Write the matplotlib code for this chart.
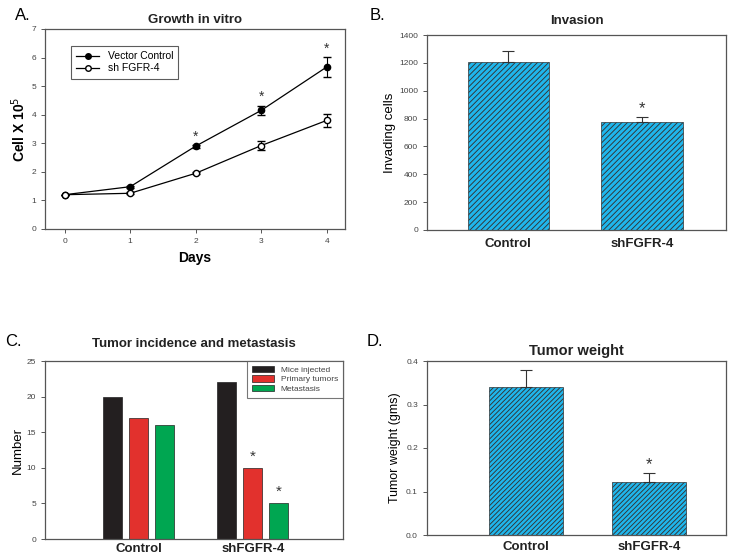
import numpy as np
import matplotlib
matplotlib.use("Agg")
import matplotlib.pyplot as plt
from matplotlib.lines import Line2D

plt.rcParams['font.family'] = ['Liberation Sans', 'DejaVu Sans']
plt.rcParams['hatch.color'] = '#1d4277'
plt.rcParams['hatch.linewidth'] = 0.65

# panel A - growth in vitro
days = [0, 1, 2, 3, 4]
vector_ctrl = [1.2, 1.48, 2.9, 4.15, 5.67]
vector_err = [0.0, 0.03, 0.05, 0.17, 0.35]
sh_fgfr = [1.2, 1.25, 1.95, 2.92, 3.8]
sh_err = [0.0, 0.03, 0.03, 0.15, 0.22]
star_days = [2, 3, 4]

# panel B - invasion
groups = ['Control', 'shFGFR-4']
invading = [1205, 775]
invading_err = [80, 35]

# panel C - tumor incidence
series_c = ['Mice injected', 'Primary tumors', 'Metastasis']
counts_c = [[20, 22], [17, 10], [16, 5]]
colors_c = ['#231f20', '#e2312d', '#00a651']

# panel D - tumor weight
weight = [0.34, 0.122]
weight_err = [0.04, 0.021]

W, H = 729, 558
fig = plt.figure(figsize=(W / 100, H / 100), dpi=100)


def px_axes(x0, y0, x1, y1):
    return fig.add_axes([x0 / W, 1 - y1 / H, (x1 - x0) / W, (y1 - y0) / H])


def style(ax):
    for s in ax.spines.values():
        s.set_color('#555555')
        s.set_linewidth(0.9)
    ax.tick_params(direction='out', length=3, width=0.7, colors='#555555',
                   labelsize=6, labelcolor='#444444')
    ax.tick_params(top=False, right=False)


bar_blue = '#1fb6ec'

# ---- A
ax = px_axes(45, 29, 345, 229)
style(ax)
ax.errorbar(days, vector_ctrl, yerr=vector_err, fmt='-o', color='black', mfc='black',
            ms=4.5, lw=0.9, capsize=3, elinewidth=0.8)
ax.errorbar(days, sh_fgfr, yerr=sh_err, fmt='-o', color='black', mfc='white',
            ms=4.5, lw=0.9, capsize=3, elinewidth=0.8)
for d in star_days:
    ax.text(d, vector_ctrl[d] + vector_err[d] + 0.05, '*', ha='center', va='bottom',
            fontsize=10, color='#333333')
ax.set_xlim(-0.3, 4.28)
ax.set_ylim(0, 7)
ax.set_xticks(days)
ax.set_ylabel('Cell X 10$^5$', fontsize=10, fontweight='bold', labelpad=2)
ax.set_xlabel('Days', fontsize=10, fontweight='bold', labelpad=4)
ax.set_title('Growth in vitro', fontsize=9.5, fontweight='bold', pad=4, color='#222222')
handles = [Line2D([], [], color='black', marker='o', mfc='black', ms=4, lw=0.9),
           Line2D([], [], color='black', marker='o', mfc='white', ms=4, lw=0.9)]
leg = ax.legend(handles, ['Vector Control', 'sh FGFR-4'], loc='upper left',
                bbox_to_anchor=(0.07, 0.94), fontsize=7.5, frameon=True, fancybox=False,
                edgecolor='#333333', handlelength=2.2, borderpad=0.5, labelspacing=0.2)
leg.get_frame().set_linewidth(0.8)
fig.text(15 / W, 1 - 15 / H, 'A.', fontsize=12, va='center', ha='left')

# ---- B
ax = px_axes(427, 35, 726, 230)
style(ax)
xb = np.arange(len(groups))
ax.bar(xb, invading, width=0.61, color=bar_blue, edgecolor='#333333', linewidth=0.5,
       hatch='//////', yerr=[[0, 0], invading_err], capsize=4,
       error_kw=dict(elinewidth=0.8, capthick=0.8, ecolor='#333333'))
ax.text(1, invading[1] + invading_err[1] + 5, '*', ha='center', va='bottom',
        fontsize=12, color='#333333')
ax.set_xlim(-0.61, 1.63)
ax.set_ylim(0, 1400)
ax.set_yticks(range(0, 1401, 200))
ax.set_xticks(xb)
ax.set_xticklabels(groups, fontsize=9.5, fontweight='bold', color='#222222')
ax.tick_params(axis='x', length=0, pad=6)
ax.set_ylabel('Invading cells', fontsize=9.5, labelpad=2)
ax.set_title('Invasion', fontsize=9.5, fontweight='bold', pad=8, color='#222222')
fig.text(370 / W, 1 - 15 / H, 'B.', fontsize=12, va='center', ha='left')

# ---- C
ax = px_axes(45, 361, 343, 539)
style(ax)
xc = np.arange(len(groups))
offs = [-0.228, 0, 0.228]
for i in range(len(series_c)):
    ax.bar(xc + offs[i], counts_c[i], width=0.167, color=colors_c[i],
           edgecolor='#222222', linewidth=0.5, label=series_c[i])
ax.text(1 + offs[1], counts_c[1][1] + 0.6, '*', ha='center', va='bottom', fontsize=11, color='#333333')
ax.text(1 + offs[2], counts_c[2][1] + 0.6, '*', ha='center', va='bottom', fontsize=11, color='#333333')
ax.set_xlim(-0.82, 1.79)
ax.set_ylim(0, 25)
ax.set_yticks(range(0, 26, 5))
ax.set_xticks(xc)
ax.set_xticklabels(groups, fontsize=9.5, fontweight='bold', color='#222222')
ax.tick_params(axis='x', length=0, pad=3)
ax.set_ylabel('Number', fontsize=9.5, labelpad=2)
ax.set_title('Tumor incidence and metastasis', fontsize=9.5, fontweight='bold', pad=10,
             color='#222222')
leg = ax.legend(loc='upper right', bbox_to_anchor=(1.0, 1.0), borderaxespad=0, fontsize=6,
                frameon=True, fancybox=False, edgecolor='#555555', handlelength=2.6,
                handleheight=0.8, borderpad=0.6, labelspacing=0.15)
for t in leg.get_texts():
    t.set_color('#444444')
leg.get_frame().set_linewidth(0.8)
fig.text(5 / W, 1 - 341 / H, 'C.', fontsize=12, va='center', ha='left')

# ---- D
ax = px_axes(427, 361, 726, 535)
style(ax)
ax.bar(xb, weight, width=0.6, color=bar_blue, edgecolor='#333333', linewidth=0.5,
       hatch='///////', yerr=[[0, 0], weight_err], capsize=4,
       error_kw=dict(elinewidth=0.8, capthick=0.8, ecolor='#333333'))
ax.text(1, weight[1] + weight_err[1] + 0.002, '*', ha='center', va='bottom',
        fontsize=12, color='#333333')
ax.set_xlim(-0.81, 1.63)
ax.set_ylim(0, 0.4)
ax.set_yticks([0.0, 0.1, 0.2, 0.3, 0.4])
ax.set_yticklabels(['0.0', '0.1', '0.2', '0.3', '0.4'])
ax.set_xticks(xb)
ax.set_xticklabels(groups, fontsize=9.5, fontweight='bold', color='#222222')
ax.tick_params(axis='x', length=0, pad=4)
ax.set_ylabel('Tumor weight (gms)', fontsize=9, labelpad=4)
ax.set_title('Tumor weight', fontsize=10.5, fontweight='bold', pad=4, color='#222222')
fig.text(367 / W, 1 - 342 / H, 'D.', fontsize=12, va='center', ha='left')

fig.savefig('out.png', dpi=100)
